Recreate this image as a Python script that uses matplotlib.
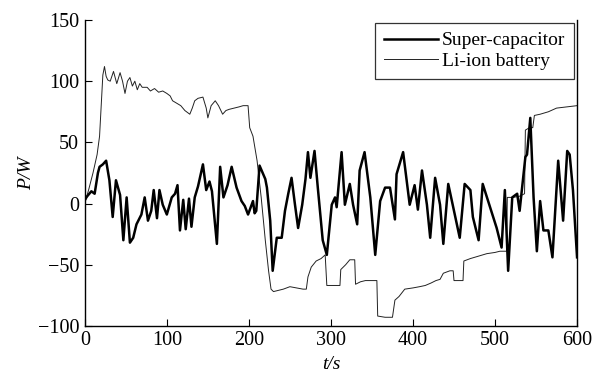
import matplotlib
matplotlib.use("Agg")
import matplotlib.pyplot as plt

sc_t = [0, 3, 8, 12, 16, 18, 22, 26, 28, 30, 34, 38, 43, 47, 51, 55, 59, 63, 69, 73, 77, 81, 84, 88, 91, 95,
        100, 106, 110, 113, 116, 120, 123, 127, 130, 134, 138, 144, 148, 152, 155, 161, 165, 169, 174, 179,
        185, 191, 195, 199, 205, 207, 209, 213, 220, 222, 226, 229, 234, 240, 244, 248, 252, 256, 260, 265,
        269, 272, 275, 280, 284, 290, 295, 301, 305, 307, 313, 317, 323, 327, 332, 335, 341, 348, 354, 360,
        366, 372, 378, 380, 388, 396, 402, 406, 411, 417, 421, 427, 433, 437, 443, 449, 457, 463, 470, 473,
        480, 485, 494, 502, 508, 512, 516, 521, 527, 530, 537, 539, 543, 547, 551, 555, 559, 565, 570, 577,
        583, 588, 591, 595, 600]
sc_p = [3, 6, 10, 8, 25, 30, 32, 35, 27, 19, -11, 19, 7, -30, 5, -32, -28, -17, -9, 5, -14, -6, 11, -12, 11, -1,
        -9, 5, 8, 15, -22, 3, -21, 4, -19, 5, 14, 32, 11, 18, 10, -33, 30, 5, 15, 30,
        13, 2, -2, -9, 2, -8, -6, 31, 20, 13, -14, -55, -28, -28, -6, 8, 21, 0, -20, -1,
        20, 42, 21, 43, 13, -30, -42, -1, 5, -3, 42, -1, 16, -1, -17, 27, 42, 5, -42, 2,
        13, 13, -13, 24, 42, -1, 15, -5, 27, -1, -28, 21, -1, -33, 16, -3, -28, 16, 11, -11,
        -30, 16, -3, -20, -36, 11, -55, 5, 8, -6, 38, 40, 70, 5, -39, 2, -22, -22, -44, 35,
        -14, 43, 40, 11, -44]

li_t = [0, 5, 10, 15, 18, 20, 22, 24, 26, 28, 31, 35, 39, 43, 46, 49, 52, 55, 58, 61, 64, 67, 70, 76, 80, 85,
        90, 95, 100, 104, 107, 112, 117, 122, 128, 131, 134, 138, 144, 148, 150, 154, 159, 163, 168, 172,
        176, 182, 188, 193, 199, 201, 205, 210, 215, 220, 224, 227, 230, 236, 242, 250, 258, 266, 270, 272,
        276, 282, 288, 293, 295, 300, 306, 311, 312, 318, 323, 329, 330, 336, 342, 350, 356, 357, 366, 375,
        378, 383, 390, 400, 408, 415, 422, 428, 433, 437, 445, 449, 450, 461, 462, 470, 480, 490, 500, 506,
        514, 515, 522, 530, 536, 537, 542, 546, 548, 555, 565, 575, 600]
li_p = [0, 12, 25, 40, 55, 80, 105, 112, 104, 101, 100, 108, 98, 107, 100, 90, 100, 103, 96, 100, 93, 98, 95, 95, 92, 94,
        91, 92, 90, 88, 84, 82, 80, 76, 73, 78, 84, 86, 87, 78, 70, 80, 84, 80, 73, 76,
        77, 78, 79, 80, 80, 62, 55, 35, 5, -30, -55, -70, -72, -71, -70, -68, -69, -70, -70, -60,
        -52, -47, -45, -42, -67, -67, -67, -67, -54, -50, -46, -46, -66, -64, -63, -63, -63, -92, -93, -93,
        -79, -76, -70, -69, -68, -67, -65, -63, -62, -57, -55, -55, -63, -63, -47, -45, -43, -41, -40, -39,
        -39, 5, 5, 6, 8, 60, 62, 62, 72, 73, 75, 78, 80]

x_ticks = [0, 100, 200, 300, 400, 500, 600]
y_ticks = [-100, -50, 0, 50, 100, 150]

plt.rcParams['font.family'] = ['Liberation Serif', 'DejaVu Serif']
plt.rcParams['mathtext.fontset'] = 'stix'

fig = plt.figure(figsize=(6.1, 3.78), dpi=100)
ax = fig.add_axes([0.139, 0.138, 0.807, 0.809])

ax.plot(sc_t, sc_p, color='black', lw=1.8, label='Super-capacitor', zorder=3)
ax.plot(li_t, li_p, color='#222222', lw=0.7, label='Li-ion battery', zorder=2)

ax.set_xlim(0, 600)
ax.set_ylim(-100, 150)
ax.set_xticks(x_ticks)
ax.set_yticks(y_ticks)
ax.tick_params(direction='in', length=5, width=0.8, labelsize=14.5, top=False, right=False, pad=4)
ax.spines['top'].set_visible(False)
for s in ['left', 'bottom', 'right']:
    ax.spines[s].set_linewidth(1.0)

ax.set_xlabel('t/s', fontsize=14, style='italic', labelpad=4)
ax.set_ylabel('P/W', fontsize=14, style='italic', labelpad=2)

leg = ax.legend(loc='upper right', fontsize=14, frameon=True, fancybox=False,
                borderaxespad=0.15, handlelength=2.8, handletextpad=0.2, borderpad=0.45,
                labelspacing=0.15)
leg.get_frame().set_edgecolor('black')
leg.get_frame().set_linewidth(0.9)

fig.savefig('out.png', dpi=100)
